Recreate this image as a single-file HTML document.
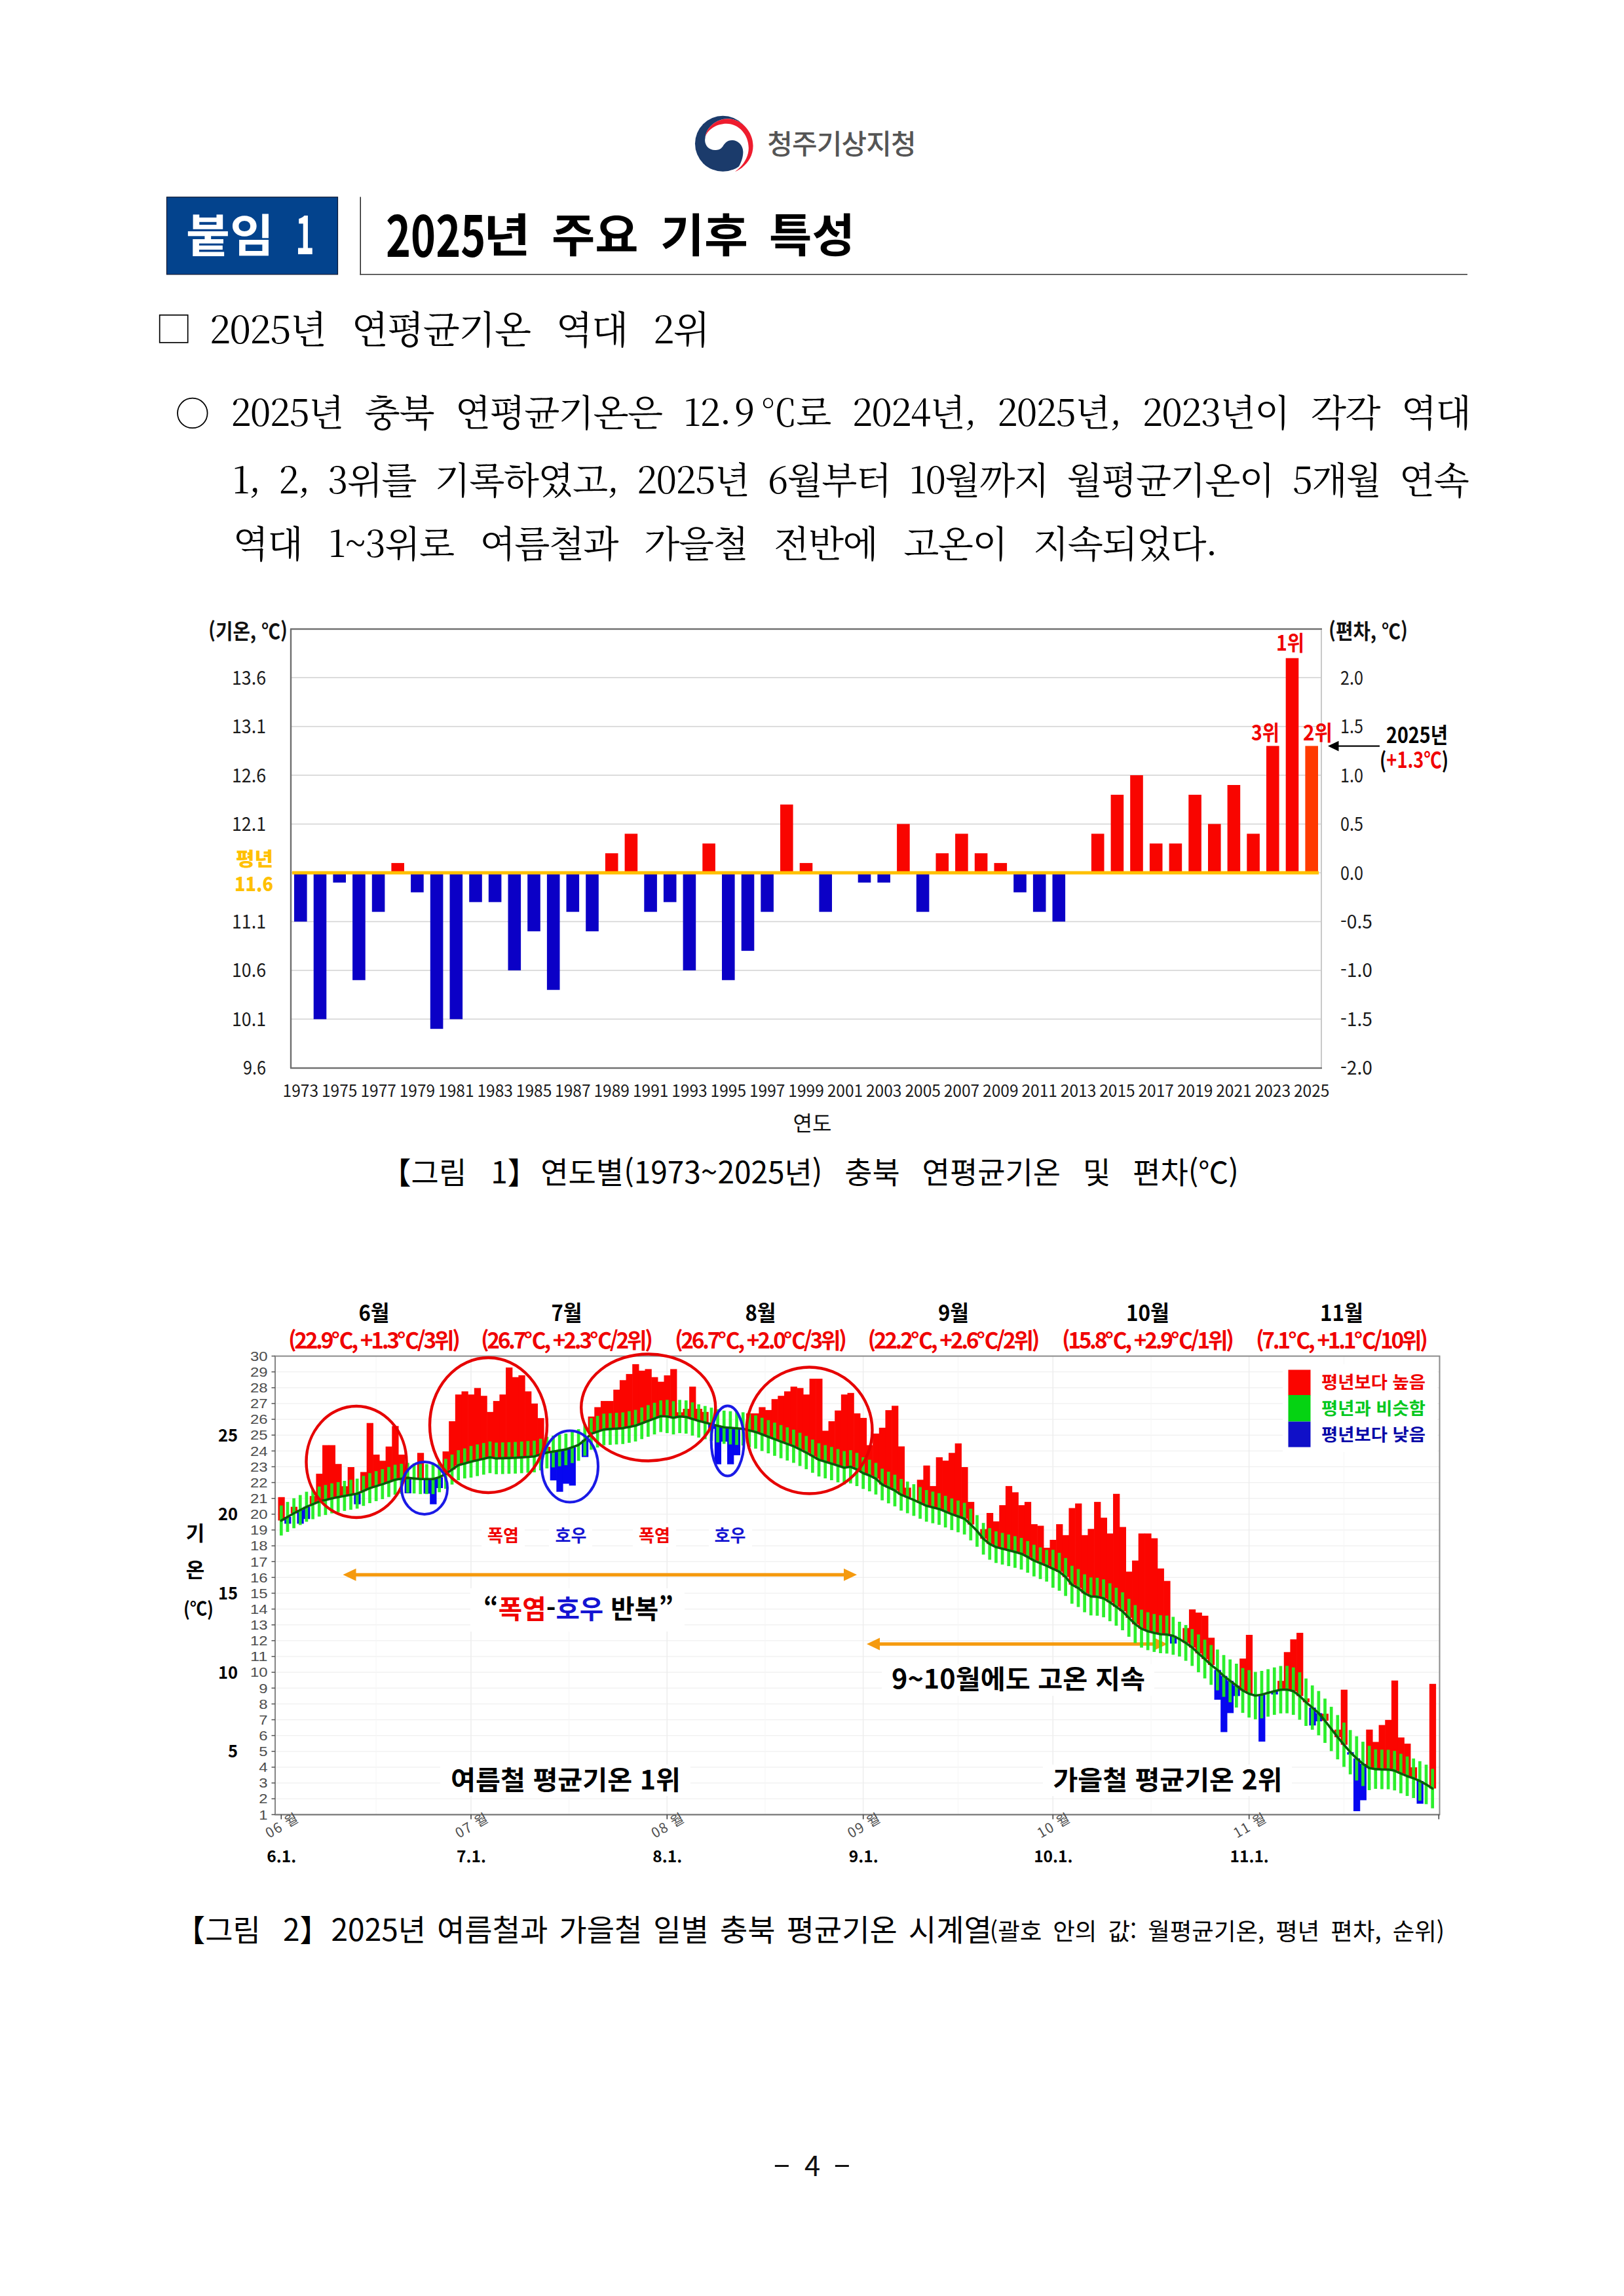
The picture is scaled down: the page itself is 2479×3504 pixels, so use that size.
<!DOCTYPE html>
<html lang="ko"><head><meta charset="utf-8"><title>2025년 주요 기후 특성</title>
<style>
html,body{margin:0;padding:0;background:#fff;}
#page{position:relative;width:2479px;height:3504px;background:#fff;overflow:hidden;}
.t{position:absolute;white-space:nowrap;margin:0;padding:0;transform-origin:0 50%;}
.g{margin:0;padding:0;height:0;font-size:0;line-height:0;font-weight:normal;}
.serif{font-family:'Noto Serif CJK SC','Noto Serif CJK KR','Liberation Serif',serif;color:#000;}
.ks{font-family:'Noto Sans CJK KR','NanumGothic','Liberation Sans',sans-serif;}
svg{position:absolute;left:0;top:0;}
svg text{font-family:'Noto Sans CJK KR','NanumGothic','Liberation Sans',sans-serif;}
</style></head><body><div id="page">
<svg width="2479" height="3504" viewBox="0 0 2479 3504">
<g transform="translate(1050,165) scale(0.06773)">
<circle cx="790" cy="802" r="628" fill="#1b3b6b"/>
<path d="M395 640 C430 420 650 240 900 240 C1200 240 1470 520 1470 850 C1470 1120 1300 1330 1060 1435 C1150 1350 1250 1150 1245 980 C1240 830 1120 725 1000 725 C880 725 830 800 790 860 C740 930 680 945 610 945 C480 945 385 850 385 720 Z" fill="#fff"/>
<path d="M395 640 C430 420 650 240 900 240 C1200 240 1470 520 1470 850 C1470 1120 1300 1330 1060 1435 C1250 1300 1370 1100 1370 900 C1370 600 1150 350 870 350 C650 350 450 480 395 640 Z" fill="#ee1c2e"/>
</g>
<rect x="254.5" y="300.8" width="261" height="118" fill="#03438d" stroke="#0a1530" stroke-width="1.2"/>
<rect x="549.5" y="300.5" width="1.5" height="119" fill="#222"/>
<rect x="549.5" y="418" width="1690.500" height="1.5" fill="#333"/>
<rect x="243.7" y="480.8" width="43" height="42" fill="none" stroke="#000" stroke-width="1.7"/>
<circle cx="293.8" cy="630.4" r="22.8" fill="none" stroke="#000" stroke-width="1.8"/>
</svg>
<div class="t ks" style="left:1171.3px;top:184.8px;font-size:42.00px;height:63.0px;line-height:63.0px;color:#555;font-weight:500;letter-spacing:-0.90px;">청주기상지청</div>
<div class="g">
<div class="t ks" style="left:284.1px;top:305.8px;font-size:64.00px;height:96.0px;line-height:96.0px;color:#fff;font-weight:700;transform:scale(1.1363,1.0900);">붙임</div>
 
<div class="t ks" style="left:451.1px;top:304.7px;font-size:64.00px;height:96.0px;line-height:96.0px;color:#fff;font-weight:700;transform:scale(0.7629,1.2500);">1</div>
</div><h1 class="g">
<div class="t ks" style="left:589.0px;top:305.3px;font-size:66.00px;height:99.0px;line-height:99.0px;color:#000;font-weight:700;transform:scale(0.9789,1.3000);">2025</div>
<div class="t ks" style="left:737.5px;top:305.3px;font-size:66.00px;height:99.0px;line-height:99.0px;color:#000;font-weight:700;transform:scale(1.1830,1.0600);">년</div>
 
<div class="t ks" style="left:841.9px;top:305.3px;font-size:66.00px;height:99.0px;line-height:99.0px;color:#000;font-weight:700;transform:scale(1.0906,1.0600);">주요</div>
 
<div class="t ks" style="left:1008.1px;top:305.3px;font-size:66.00px;height:99.0px;line-height:99.0px;color:#000;font-weight:700;transform:scale(1.1018,1.0600);">기후</div>
 
<div class="t ks" style="left:1173.7px;top:305.3px;font-size:66.00px;height:99.0px;line-height:99.0px;color:#000;font-weight:700;transform:scale(1.0768,1.0600);">특성</div>
</h1>
<div class="t serif" style="left:319.7px;top:455.5px;font-size:58.00px;height:87.0px;line-height:87.0px;color:#000;font-weight:400;word-spacing:22.72px;letter-spacing:-1.5px;">2025년 연평균기온 역대 2위</div>
<div class="t serif" style="left:352.3px;top:584.0px;font-size:56.00px;height:84.0px;line-height:84.0px;color:#000;font-weight:400;word-spacing:17.14px;letter-spacing:-1.5px;">2025년 충북 연평균기온은 12<span style="letter-spacing:4px">.</span>9<span style="margin-left:10px">℃</span>로 2024년, 2025년, 2023년이 각각 역대</div>
<div class="t serif" style="left:354.8px;top:686.5px;font-size:56.00px;height:84.0px;line-height:84.0px;color:#000;font-weight:400;word-spacing:12.56px;letter-spacing:-1.5px;">1, 2, 3위를 기록하였고, 2025년 6월부터 10월까지 월평균기온이 5개월 연속</div>
<div class="t serif" style="left:355.8px;top:783.5px;font-size:56.00px;height:84.0px;line-height:84.0px;color:#000;font-weight:400;word-spacing:24.32px;letter-spacing:-1.5px;">역대 1~3위로 여름철과 가을철 전반에 고온이 지속되었다.</div>
<svg width="2479" height="3504" viewBox="0 0 2479 3504">
<rect x="444.0" y="1629.0" width="1573.0" height="1.6" fill="#d4d4d4"/>
<rect x="444.0" y="1554.5" width="1573.0" height="1.6" fill="#d4d4d4"/>
<rect x="444.0" y="1480.1" width="1573.0" height="1.6" fill="#d4d4d4"/>
<rect x="444.0" y="1405.7" width="1573.0" height="1.6" fill="#d4d4d4"/>
<rect x="444.0" y="1331.2" width="1573.0" height="1.6" fill="#d4d4d4"/>
<rect x="444.0" y="1256.8" width="1573.0" height="1.6" fill="#d4d4d4"/>
<rect x="444.0" y="1182.3" width="1573.0" height="1.6" fill="#d4d4d4"/>
<rect x="444.0" y="1107.9" width="1573.0" height="1.6" fill="#d4d4d4"/>
<rect x="444.0" y="1033.4" width="1573.0" height="1.6" fill="#d4d4d4"/>
<rect x="449.0" y="1332.0" width="19.6" height="74.5" fill="#0b00c6"/>
<rect x="478.7" y="1332.0" width="19.6" height="223.4" fill="#0b00c6"/>
<rect x="508.4" y="1332.0" width="19.6" height="14.9" fill="#0b00c6"/>
<rect x="538.1" y="1332.0" width="19.6" height="163.8" fill="#0b00c6"/>
<rect x="567.8" y="1332.0" width="19.6" height="59.6" fill="#0b00c6"/>
<rect x="597.4" y="1317.1" width="19.6" height="14.9" fill="#f90500"/>
<rect x="627.1" y="1332.0" width="19.6" height="29.8" fill="#0b00c6"/>
<rect x="656.8" y="1332.0" width="19.6" height="238.2" fill="#0b00c6"/>
<rect x="686.5" y="1332.0" width="19.6" height="223.4" fill="#0b00c6"/>
<rect x="716.2" y="1332.0" width="19.6" height="44.7" fill="#0b00c6"/>
<rect x="745.8" y="1332.0" width="19.6" height="44.7" fill="#0b00c6"/>
<rect x="775.5" y="1332.0" width="19.6" height="148.9" fill="#0b00c6"/>
<rect x="805.2" y="1332.0" width="19.6" height="89.3" fill="#0b00c6"/>
<rect x="834.9" y="1332.0" width="19.6" height="178.7" fill="#0b00c6"/>
<rect x="864.5" y="1332.0" width="19.6" height="59.6" fill="#0b00c6"/>
<rect x="894.2" y="1332.0" width="19.6" height="89.3" fill="#0b00c6"/>
<rect x="923.9" y="1302.2" width="19.6" height="29.8" fill="#f90500"/>
<rect x="953.6" y="1272.4" width="19.6" height="59.6" fill="#f90500"/>
<rect x="983.3" y="1332.0" width="19.6" height="59.6" fill="#0b00c6"/>
<rect x="1012.9" y="1332.0" width="19.6" height="44.7" fill="#0b00c6"/>
<rect x="1042.6" y="1332.0" width="19.6" height="148.9" fill="#0b00c6"/>
<rect x="1072.3" y="1287.3" width="19.6" height="44.7" fill="#f90500"/>
<rect x="1102.0" y="1332.0" width="19.6" height="163.8" fill="#0b00c6"/>
<rect x="1131.7" y="1332.0" width="19.6" height="119.1" fill="#0b00c6"/>
<rect x="1161.3" y="1332.0" width="19.6" height="59.6" fill="#0b00c6"/>
<rect x="1191.0" y="1227.8" width="19.6" height="104.2" fill="#f90500"/>
<rect x="1220.7" y="1317.1" width="19.6" height="14.9" fill="#f90500"/>
<rect x="1250.4" y="1332.0" width="19.6" height="59.6" fill="#0b00c6"/>
<rect x="1309.7" y="1332.0" width="19.6" height="14.9" fill="#0b00c6"/>
<rect x="1339.4" y="1332.0" width="19.6" height="14.9" fill="#0b00c6"/>
<rect x="1369.1" y="1257.5" width="19.6" height="74.5" fill="#f90500"/>
<rect x="1398.8" y="1332.0" width="19.6" height="59.6" fill="#0b00c6"/>
<rect x="1428.5" y="1302.2" width="19.6" height="29.8" fill="#f90500"/>
<rect x="1458.1" y="1272.4" width="19.6" height="59.6" fill="#f90500"/>
<rect x="1487.8" y="1302.2" width="19.6" height="29.8" fill="#f90500"/>
<rect x="1517.5" y="1317.1" width="19.6" height="14.9" fill="#f90500"/>
<rect x="1547.2" y="1332.0" width="19.6" height="29.8" fill="#0b00c6"/>
<rect x="1576.9" y="1332.0" width="19.6" height="59.6" fill="#0b00c6"/>
<rect x="1606.5" y="1332.0" width="19.6" height="74.5" fill="#0b00c6"/>
<rect x="1665.9" y="1272.4" width="19.6" height="59.6" fill="#f90500"/>
<rect x="1695.6" y="1212.9" width="19.6" height="119.1" fill="#f90500"/>
<rect x="1725.2" y="1183.1" width="19.6" height="148.9" fill="#f90500"/>
<rect x="1754.9" y="1287.3" width="19.6" height="44.7" fill="#f90500"/>
<rect x="1784.6" y="1287.3" width="19.6" height="44.7" fill="#f90500"/>
<rect x="1814.3" y="1212.9" width="19.6" height="119.1" fill="#f90500"/>
<rect x="1844.0" y="1257.5" width="19.6" height="74.5" fill="#f90500"/>
<rect x="1873.6" y="1198.0" width="19.6" height="134.0" fill="#f90500"/>
<rect x="1903.3" y="1272.4" width="19.6" height="59.6" fill="#f90500"/>
<rect x="1933.0" y="1138.4" width="19.6" height="193.6" fill="#f90500"/>
<rect x="1962.7" y="1004.4" width="19.6" height="327.6" fill="#f90500"/>
<rect x="1992.4" y="1138.4" width="19.6" height="193.6" fill="#ff3a00"/>
<rect x="446.0" y="1329.5" width="1567.0" height="5" fill="#ffc000"/>
<rect x="443.0" y="958.8" width="1575.0" height="2.4" fill="#6e6e6e"/>
<rect x="443.0" y="1628.8" width="1575.0" height="2.4" fill="#6e6e6e"/>
<rect x="442.8" y="960.0" width="2.4" height="670.0" fill="#6e6e6e"/>
<rect x="2016.0" y="961.0" width="2" height="668.0" fill="#c9c9c9"/>
<text x="354.0" y="1044.7" font-size="29" fill="#1a1a1a" textLength="52" lengthAdjust="spacingAndGlyphs">13.6</text>
<text x="354.0" y="1119.2" font-size="29" fill="#1a1a1a" textLength="52" lengthAdjust="spacingAndGlyphs">13.1</text>
<text x="354.0" y="1193.6" font-size="29" fill="#1a1a1a" textLength="52" lengthAdjust="spacingAndGlyphs">12.6</text>
<text x="354.0" y="1268.0" font-size="29" fill="#1a1a1a" textLength="52" lengthAdjust="spacingAndGlyphs">12.1</text>
<text x="354.0" y="1417.0" font-size="29" fill="#1a1a1a" textLength="52" lengthAdjust="spacingAndGlyphs">11.1</text>
<text x="354.0" y="1491.4" font-size="29" fill="#1a1a1a" textLength="52" lengthAdjust="spacingAndGlyphs">10.6</text>
<text x="354.0" y="1565.8" font-size="29" fill="#1a1a1a" textLength="52" lengthAdjust="spacingAndGlyphs">10.1</text>
<text x="371.0" y="1640.3" font-size="29" fill="#1a1a1a" textLength="35" lengthAdjust="spacingAndGlyphs">9.6</text>
<text x="2046" y="1044.7" font-size="29" fill="#1a1a1a" textLength="35" lengthAdjust="spacingAndGlyphs">2.0</text>
<text x="2046" y="1119.2" font-size="29" fill="#1a1a1a" textLength="35" lengthAdjust="spacingAndGlyphs">1.5</text>
<text x="2046" y="1193.6" font-size="29" fill="#1a1a1a" textLength="35" lengthAdjust="spacingAndGlyphs">1.0</text>
<text x="2046" y="1268.0" font-size="29" fill="#1a1a1a" textLength="35" lengthAdjust="spacingAndGlyphs">0.5</text>
<text x="2046" y="1342.5" font-size="29" fill="#1a1a1a" textLength="35" lengthAdjust="spacingAndGlyphs">0.0</text>
<text x="2046" y="1417.0" font-size="29" fill="#1a1a1a" textLength="49" lengthAdjust="spacingAndGlyphs">-0.5</text>
<text x="2046" y="1491.4" font-size="29" fill="#1a1a1a" textLength="49" lengthAdjust="spacingAndGlyphs">-1.0</text>
<text x="2046" y="1565.8" font-size="29" fill="#1a1a1a" textLength="49" lengthAdjust="spacingAndGlyphs">-1.5</text>
<text x="2046" y="1640.3" font-size="29" fill="#1a1a1a" textLength="49" lengthAdjust="spacingAndGlyphs">-2.0</text>
<text x="360" y="1322" font-size="29" font-weight="900" fill="#ffc000" textLength="57" lengthAdjust="spacingAndGlyphs">평년</text>
<text x="358" y="1360" font-size="30" font-weight="900" fill="#ffc000" textLength="59" lengthAdjust="spacingAndGlyphs">11.6</text>
<text x="318" y="975" font-size="32" font-weight="700" fill="#111" textLength="121" lengthAdjust="spacingAndGlyphs">(기온, ℃)</text>
<text x="2028" y="975" font-size="32" font-weight="700" fill="#111" textLength="121" lengthAdjust="spacingAndGlyphs">(편차, ℃)</text>
<text x="431.6" y="1674" font-size="25" fill="#1a1a1a" textLength="54.5" lengthAdjust="spacingAndGlyphs">1973</text>
<text x="491.0" y="1674" font-size="25" fill="#1a1a1a" textLength="54.5" lengthAdjust="spacingAndGlyphs">1975</text>
<text x="550.4" y="1674" font-size="25" fill="#1a1a1a" textLength="54.5" lengthAdjust="spacingAndGlyphs">1977</text>
<text x="609.7" y="1674" font-size="25" fill="#1a1a1a" textLength="54.5" lengthAdjust="spacingAndGlyphs">1979</text>
<text x="669.1" y="1674" font-size="25" fill="#1a1a1a" textLength="54.5" lengthAdjust="spacingAndGlyphs">1981</text>
<text x="728.4" y="1674" font-size="25" fill="#1a1a1a" textLength="54.5" lengthAdjust="spacingAndGlyphs">1983</text>
<text x="787.8" y="1674" font-size="25" fill="#1a1a1a" textLength="54.5" lengthAdjust="spacingAndGlyphs">1985</text>
<text x="847.1" y="1674" font-size="25" fill="#1a1a1a" textLength="54.5" lengthAdjust="spacingAndGlyphs">1987</text>
<text x="906.5" y="1674" font-size="25" fill="#1a1a1a" textLength="54.5" lengthAdjust="spacingAndGlyphs">1989</text>
<text x="965.9" y="1674" font-size="25" fill="#1a1a1a" textLength="54.5" lengthAdjust="spacingAndGlyphs">1991</text>
<text x="1025.2" y="1674" font-size="25" fill="#1a1a1a" textLength="54.5" lengthAdjust="spacingAndGlyphs">1993</text>
<text x="1084.6" y="1674" font-size="25" fill="#1a1a1a" textLength="54.5" lengthAdjust="spacingAndGlyphs">1995</text>
<text x="1143.9" y="1674" font-size="25" fill="#1a1a1a" textLength="54.5" lengthAdjust="spacingAndGlyphs">1997</text>
<text x="1203.3" y="1674" font-size="25" fill="#1a1a1a" textLength="54.5" lengthAdjust="spacingAndGlyphs">1999</text>
<text x="1262.7" y="1674" font-size="25" fill="#1a1a1a" textLength="54.5" lengthAdjust="spacingAndGlyphs">2001</text>
<text x="1322.0" y="1674" font-size="25" fill="#1a1a1a" textLength="54.5" lengthAdjust="spacingAndGlyphs">2003</text>
<text x="1381.4" y="1674" font-size="25" fill="#1a1a1a" textLength="54.5" lengthAdjust="spacingAndGlyphs">2005</text>
<text x="1440.7" y="1674" font-size="25" fill="#1a1a1a" textLength="54.5" lengthAdjust="spacingAndGlyphs">2007</text>
<text x="1500.1" y="1674" font-size="25" fill="#1a1a1a" textLength="54.5" lengthAdjust="spacingAndGlyphs">2009</text>
<text x="1559.5" y="1674" font-size="25" fill="#1a1a1a" textLength="54.5" lengthAdjust="spacingAndGlyphs">2011</text>
<text x="1618.8" y="1674" font-size="25" fill="#1a1a1a" textLength="54.5" lengthAdjust="spacingAndGlyphs">2013</text>
<text x="1678.2" y="1674" font-size="25" fill="#1a1a1a" textLength="54.5" lengthAdjust="spacingAndGlyphs">2015</text>
<text x="1737.5" y="1674" font-size="25" fill="#1a1a1a" textLength="54.5" lengthAdjust="spacingAndGlyphs">2017</text>
<text x="1796.9" y="1674" font-size="25" fill="#1a1a1a" textLength="54.5" lengthAdjust="spacingAndGlyphs">2019</text>
<text x="1856.2" y="1674" font-size="25" fill="#1a1a1a" textLength="54.5" lengthAdjust="spacingAndGlyphs">2021</text>
<text x="1915.6" y="1674" font-size="25" fill="#1a1a1a" textLength="54.5" lengthAdjust="spacingAndGlyphs">2023</text>
<text x="1975.0" y="1674" font-size="25" fill="#1a1a1a" textLength="54.5" lengthAdjust="spacingAndGlyphs">2025</text>
<text x="1240" y="1726" font-size="32" text-anchor="middle" fill="#111">연도</text>
<text x="1948" y="993" font-size="32" font-weight="700" fill="#f00000" textLength="43" lengthAdjust="spacingAndGlyphs">1위</text>
<text x="1910" y="1130" font-size="32" font-weight="700" fill="#f00000" textLength="43" lengthAdjust="spacingAndGlyphs">3위</text>
<text x="1989" y="1130" font-size="32" font-weight="700" fill="#f00000" textLength="45" lengthAdjust="spacingAndGlyphs">2위</text>
<rect x="2040" y="1137.5" width="66" height="2.2" fill="#000"/>
<path d="M2027 1138.6 L2043.5 1130.8 L2043.5 1146.4 Z" fill="#000"/>
<text x="2116" y="1134" font-size="33" font-weight="700" fill="#000" textLength="94" lengthAdjust="spacingAndGlyphs">2025년</text>
<text x="2106" y="1172" font-size="33" font-weight="700" fill="#000" textLength="105" lengthAdjust="spacingAndGlyphs">(<tspan fill="#f00000">+1.3℃</tspan>)</text>
</svg>
<svg width="2479" height="3504" viewBox="0 0 2479 3504">
<rect x="420.0" y="2744.5" width="1777.5" height="1.3" fill="#f0f0f0"/>
<rect x="420.0" y="2720.4" width="1777.5" height="1.3" fill="#f0f0f0"/>
<rect x="420.0" y="2696.3" width="1777.5" height="1.3" fill="#f0f0f0"/>
<rect x="420.0" y="2672.2" width="1777.5" height="1.3" fill="#f0f0f0"/>
<rect x="420.0" y="2648.0" width="1777.5" height="1.3" fill="#f0f0f0"/>
<rect x="420.0" y="2623.9" width="1777.5" height="1.3" fill="#f0f0f0"/>
<rect x="420.0" y="2599.8" width="1777.5" height="1.3" fill="#f0f0f0"/>
<rect x="420.0" y="2575.6" width="1777.5" height="1.3" fill="#f0f0f0"/>
<rect x="420.0" y="2551.5" width="1777.5" height="1.3" fill="#f0f0f0"/>
<rect x="420.0" y="2527.4" width="1777.5" height="1.3" fill="#f0f0f0"/>
<rect x="420.0" y="2503.2" width="1777.5" height="1.3" fill="#f0f0f0"/>
<rect x="420.0" y="2479.1" width="1777.5" height="1.3" fill="#f0f0f0"/>
<rect x="420.0" y="2455.0" width="1777.5" height="1.3" fill="#f0f0f0"/>
<rect x="420.0" y="2430.8" width="1777.5" height="1.3" fill="#f0f0f0"/>
<rect x="420.0" y="2406.7" width="1777.5" height="1.3" fill="#f0f0f0"/>
<rect x="420.0" y="2382.6" width="1777.5" height="1.3" fill="#f0f0f0"/>
<rect x="420.0" y="2358.5" width="1777.5" height="1.3" fill="#f0f0f0"/>
<rect x="420.0" y="2334.3" width="1777.5" height="1.3" fill="#f0f0f0"/>
<rect x="420.0" y="2310.2" width="1777.5" height="1.3" fill="#f0f0f0"/>
<rect x="420.0" y="2286.1" width="1777.5" height="1.3" fill="#f0f0f0"/>
<rect x="420.0" y="2261.9" width="1777.5" height="1.3" fill="#f0f0f0"/>
<rect x="420.0" y="2237.8" width="1777.5" height="1.3" fill="#f0f0f0"/>
<rect x="420.0" y="2213.7" width="1777.5" height="1.3" fill="#f0f0f0"/>
<rect x="420.0" y="2189.6" width="1777.5" height="1.3" fill="#f0f0f0"/>
<rect x="420.0" y="2165.4" width="1777.5" height="1.3" fill="#f0f0f0"/>
<rect x="420.0" y="2141.3" width="1777.5" height="1.3" fill="#f0f0f0"/>
<rect x="420.0" y="2117.2" width="1777.5" height="1.3" fill="#f0f0f0"/>
<rect x="420.0" y="2093.0" width="1777.5" height="1.3" fill="#f0f0f0"/>
<rect x="573.6" y="2069.6" width="1" height="699.8" fill="#f5f5f5"/>
<rect x="718.2" y="2069.6" width="1.5" height="699.8" fill="#ededed"/>
<rect x="868.1" y="2069.6" width="1" height="699.8" fill="#f5f5f5"/>
<rect x="1017.5" y="2069.6" width="1.5" height="699.8" fill="#ededed"/>
<rect x="1167.5" y="2069.6" width="1" height="699.8" fill="#f5f5f5"/>
<rect x="1316.9" y="2069.6" width="1.5" height="699.8" fill="#ededed"/>
<rect x="1462.0" y="2069.6" width="1" height="699.8" fill="#f5f5f5"/>
<rect x="1606.5" y="2069.6" width="1.5" height="699.8" fill="#ededed"/>
<rect x="1756.5" y="2069.6" width="1" height="699.8" fill="#f5f5f5"/>
<rect x="1905.9" y="2069.6" width="1.5" height="699.8" fill="#ededed"/>
<rect x="2051.0" y="2069.6" width="1" height="699.8" fill="#f5f5f5"/>
<rect x="424.47" y="2284.8" width="10.26" height="35.7" fill="#fb0500"/>
<rect x="434.13" y="2315.0" width="10.26" height="10.4" fill="#0707f0"/>
<rect x="443.78" y="2299.6" width="10.26" height="9.9" fill="#fb0500"/>
<rect x="453.44" y="2304.5" width="10.26" height="20.9" fill="#0707f0"/>
<rect x="463.10" y="2299.6" width="10.26" height="18.6" fill="#0707f0"/>
<rect x="472.75" y="2283.2" width="10.26" height="12.4" fill="#fb0500"/>
<rect x="482.41" y="2249.1" width="10.26" height="42.5" fill="#fb0500"/>
<rect x="492.06" y="2205.5" width="10.26" height="83.7" fill="#fb0500"/>
<rect x="501.72" y="2205.5" width="10.26" height="81.3" fill="#fb0500"/>
<rect x="511.38" y="2234.2" width="10.26" height="50.7" fill="#fb0500"/>
<rect x="521.03" y="2268.2" width="10.26" height="14.7" fill="#fb0500"/>
<rect x="530.69" y="2239.0" width="10.26" height="42.2" fill="#fb0500"/>
<rect x="540.34" y="2279.5" width="10.26" height="16.2" fill="#0707f0"/>
<rect x="550.00" y="2246.5" width="10.26" height="28.8" fill="#fb0500"/>
<rect x="559.66" y="2171.7" width="10.26" height="99.4" fill="#fb0500"/>
<rect x="569.31" y="2219.9" width="10.26" height="48.1" fill="#fb0500"/>
<rect x="578.97" y="2229.3" width="10.26" height="35.7" fill="#fb0500"/>
<rect x="588.62" y="2207.6" width="10.26" height="54.1" fill="#fb0500"/>
<rect x="598.28" y="2176.3" width="10.26" height="82.0" fill="#fb0500"/>
<rect x="607.94" y="2219.9" width="10.26" height="36.9" fill="#fb0500"/>
<rect x="617.59" y="2255.4" width="10.26" height="23.6" fill="#0707f0"/>
<rect x="636.90" y="2217.3" width="10.26" height="40.1" fill="#fb0500"/>
<rect x="646.56" y="2257.3" width="10.26" height="22.2" fill="#0707f0"/>
<rect x="656.22" y="2257.3" width="10.26" height="38.4" fill="#0707f0"/>
<rect x="665.87" y="2254.4" width="10.26" height="16.6" fill="#0707f0"/>
<rect x="675.53" y="2215.1" width="10.26" height="34.3" fill="#fb0500"/>
<rect x="685.18" y="2169.0" width="10.26" height="73.7" fill="#fb0500"/>
<rect x="694.84" y="2128.2" width="10.26" height="107.9" fill="#fb0500"/>
<rect x="704.50" y="2123.4" width="10.26" height="110.0" fill="#fb0500"/>
<rect x="714.15" y="2128.2" width="10.26" height="102.6" fill="#fb0500"/>
<rect x="723.81" y="2118.3" width="10.26" height="110.2" fill="#fb0500"/>
<rect x="733.46" y="2130.2" width="10.26" height="96.1" fill="#fb0500"/>
<rect x="743.12" y="2154.8" width="10.26" height="69.3" fill="#fb0500"/>
<rect x="752.78" y="2138.1" width="10.26" height="87.6" fill="#fb0500"/>
<rect x="762.43" y="2128.2" width="10.26" height="97.2" fill="#fb0500"/>
<rect x="772.09" y="2087.0" width="10.26" height="138.1" fill="#fb0500"/>
<rect x="781.74" y="2101.7" width="10.26" height="123.1" fill="#fb0500"/>
<rect x="791.40" y="2098.8" width="10.26" height="125.3" fill="#fb0500"/>
<rect x="801.06" y="2123.4" width="10.26" height="100.1" fill="#fb0500"/>
<rect x="810.71" y="2142.0" width="10.26" height="80.8" fill="#fb0500"/>
<rect x="820.37" y="2164.2" width="10.26" height="55.6" fill="#fb0500"/>
<rect x="830.02" y="2208.1" width="10.26" height="8.7" fill="#fb0500"/>
<rect x="839.68" y="2215.2" width="10.26" height="44.1" fill="#0707f0"/>
<rect x="849.34" y="2213.6" width="10.26" height="63.1" fill="#0707f0"/>
<rect x="858.99" y="2212.0" width="10.26" height="52.4" fill="#0707f0"/>
<rect x="868.65" y="2208.6" width="10.26" height="58.6" fill="#0707f0"/>
<rect x="887.96" y="2197.5" width="10.26" height="26.1" fill="#0707f0"/>
<rect x="897.62" y="2161.8" width="10.26" height="26.5" fill="#fb0500"/>
<rect x="907.27" y="2147.5" width="10.26" height="37.4" fill="#fb0500"/>
<rect x="916.93" y="2138.1" width="10.26" height="43.4" fill="#fb0500"/>
<rect x="926.58" y="2138.1" width="10.26" height="42.8" fill="#fb0500"/>
<rect x="936.24" y="2120.8" width="10.26" height="59.5" fill="#fb0500"/>
<rect x="945.90" y="2106.3" width="10.26" height="73.4" fill="#fb0500"/>
<rect x="955.55" y="2096.9" width="10.26" height="80.8" fill="#fb0500"/>
<rect x="965.21" y="2081.9" width="10.26" height="93.9" fill="#fb0500"/>
<rect x="974.86" y="2091.8" width="10.26" height="80.4" fill="#fb0500"/>
<rect x="984.52" y="2089.4" width="10.26" height="79.1" fill="#fb0500"/>
<rect x="994.18" y="2101.7" width="10.26" height="63.2" fill="#fb0500"/>
<rect x="1003.83" y="2108.7" width="10.26" height="52.6" fill="#fb0500"/>
<rect x="1013.49" y="2099.0" width="10.26" height="62.7" fill="#fb0500"/>
<rect x="1023.14" y="2089.4" width="10.26" height="74.3" fill="#fb0500"/>
<rect x="1032.80" y="2155.3" width="10.26" height="6.5" fill="#fb0500"/>
<rect x="1042.46" y="2150.0" width="10.26" height="12.5" fill="#fb0500"/>
<rect x="1052.11" y="2116.2" width="10.26" height="49.3" fill="#fb0500"/>
<rect x="1061.77" y="2150.0" width="10.26" height="18.6" fill="#fb0500"/>
<rect x="1071.42" y="2154.8" width="10.26" height="16.3" fill="#fb0500"/>
<rect x="1081.08" y="2173.6" width="10.26" height="7.0" fill="#0707f0"/>
<rect x="1090.74" y="2175.9" width="10.26" height="58.8" fill="#0707f0"/>
<rect x="1100.39" y="2178.2" width="10.26" height="22.0" fill="#0707f0"/>
<rect x="1110.05" y="2179.0" width="10.26" height="55.7" fill="#0707f0"/>
<rect x="1119.70" y="2179.8" width="10.26" height="41.1" fill="#0707f0"/>
<rect x="1139.02" y="2157.0" width="10.26" height="26.1" fill="#fb0500"/>
<rect x="1148.67" y="2157.0" width="10.26" height="28.5" fill="#fb0500"/>
<rect x="1158.33" y="2147.5" width="10.26" height="41.5" fill="#fb0500"/>
<rect x="1167.98" y="2151.9" width="10.26" height="40.8" fill="#fb0500"/>
<rect x="1177.64" y="2135.2" width="10.26" height="61.2" fill="#fb0500"/>
<rect x="1187.30" y="2130.2" width="10.26" height="70.0" fill="#fb0500"/>
<rect x="1196.95" y="2123.4" width="10.26" height="80.2" fill="#fb0500"/>
<rect x="1206.61" y="2116.2" width="10.26" height="91.0" fill="#fb0500"/>
<rect x="1216.26" y="2118.3" width="10.26" height="93.6" fill="#fb0500"/>
<rect x="1225.92" y="2128.2" width="10.26" height="88.6" fill="#fb0500"/>
<rect x="1235.58" y="2104.1" width="10.26" height="118.2" fill="#fb0500"/>
<rect x="1245.23" y="2104.1" width="10.26" height="123.8" fill="#fb0500"/>
<rect x="1254.89" y="2183.5" width="10.26" height="47.3" fill="#fb0500"/>
<rect x="1264.54" y="2169.0" width="10.26" height="64.7" fill="#fb0500"/>
<rect x="1274.20" y="2152.6" width="10.26" height="84.2" fill="#fb0500"/>
<rect x="1283.86" y="2128.2" width="10.26" height="111.7" fill="#fb0500"/>
<rect x="1293.51" y="2125.8" width="10.26" height="112.7" fill="#fb0500"/>
<rect x="1303.17" y="2157.0" width="10.26" height="85.7" fill="#fb0500"/>
<rect x="1312.82" y="2163.9" width="10.26" height="84.2" fill="#fb0500"/>
<rect x="1322.48" y="2205.5" width="10.26" height="46.3" fill="#fb0500"/>
<rect x="1332.14" y="2187.8" width="10.26" height="68.8" fill="#fb0500"/>
<rect x="1341.79" y="2178.9" width="10.26" height="86.6" fill="#fb0500"/>
<rect x="1351.45" y="2152.1" width="10.26" height="118.0" fill="#fb0500"/>
<rect x="1361.10" y="2145.4" width="10.26" height="129.3" fill="#fb0500"/>
<rect x="1370.76" y="2207.4" width="10.26" height="73.8" fill="#fb0500"/>
<rect x="1380.42" y="2270.4" width="10.26" height="14.8" fill="#fb0500"/>
<rect x="1399.73" y="2258.3" width="10.26" height="35.4" fill="#fb0500"/>
<rect x="1409.38" y="2236.6" width="10.26" height="61.5" fill="#fb0500"/>
<rect x="1419.04" y="2267.9" width="10.26" height="32.6" fill="#fb0500"/>
<rect x="1428.70" y="2224.0" width="10.26" height="78.9" fill="#fb0500"/>
<rect x="1438.35" y="2229.1" width="10.26" height="77.8" fill="#fb0500"/>
<rect x="1448.01" y="2217.3" width="10.26" height="93.6" fill="#fb0500"/>
<rect x="1457.66" y="2202.8" width="10.26" height="111.5" fill="#fb0500"/>
<rect x="1467.32" y="2239.0" width="10.26" height="78.7" fill="#fb0500"/>
<rect x="1476.98" y="2292.1" width="10.26" height="34.5" fill="#fb0500"/>
<rect x="1496.29" y="2333.6" width="10.26" height="14.7" fill="#fb0500"/>
<rect x="1505.94" y="2309.0" width="10.26" height="47.3" fill="#fb0500"/>
<rect x="1515.60" y="2321.8" width="10.26" height="39.3" fill="#fb0500"/>
<rect x="1525.26" y="2297.1" width="10.26" height="66.4" fill="#fb0500"/>
<rect x="1534.91" y="2267.9" width="10.26" height="98.0" fill="#fb0500"/>
<rect x="1544.57" y="2277.4" width="10.26" height="91.2" fill="#fb0500"/>
<rect x="1554.22" y="2297.1" width="10.26" height="74.1" fill="#fb0500"/>
<rect x="1563.88" y="2292.1" width="10.26" height="84.0" fill="#fb0500"/>
<rect x="1573.54" y="2326.1" width="10.26" height="55.5" fill="#fb0500"/>
<rect x="1583.19" y="2328.5" width="10.26" height="57.1" fill="#fb0500"/>
<rect x="1592.85" y="2362.1" width="10.26" height="27.5" fill="#fb0500"/>
<rect x="1602.50" y="2350.0" width="10.26" height="44.2" fill="#fb0500"/>
<rect x="1612.16" y="2326.1" width="10.26" height="72.6" fill="#fb0500"/>
<rect x="1621.82" y="2342.8" width="10.26" height="63.9" fill="#fb0500"/>
<rect x="1631.47" y="2301.5" width="10.26" height="117.0" fill="#fb0500"/>
<rect x="1641.13" y="2294.5" width="10.26" height="129.1" fill="#fb0500"/>
<rect x="1650.78" y="2342.8" width="10.26" height="88.8" fill="#fb0500"/>
<rect x="1660.44" y="2333.3" width="10.26" height="103.0" fill="#fb0500"/>
<rect x="1670.10" y="2292.1" width="10.26" height="144.8" fill="#fb0500"/>
<rect x="1679.75" y="2316.2" width="10.26" height="123.1" fill="#fb0500"/>
<rect x="1689.41" y="2340.3" width="10.26" height="105.0" fill="#fb0500"/>
<rect x="1699.06" y="2279.8" width="10.26" height="172.3" fill="#fb0500"/>
<rect x="1708.72" y="2330.4" width="10.26" height="128.6" fill="#fb0500"/>
<rect x="1718.38" y="2398.5" width="10.26" height="70.5" fill="#fb0500"/>
<rect x="1728.03" y="2381.6" width="10.26" height="97.0" fill="#fb0500"/>
<rect x="1737.69" y="2340.3" width="10.26" height="145.3" fill="#fb0500"/>
<rect x="1747.34" y="2340.3" width="10.26" height="149.1" fill="#fb0500"/>
<rect x="1757.00" y="2347.6" width="10.26" height="144.5" fill="#fb0500"/>
<rect x="1766.66" y="2393.7" width="10.26" height="100.4" fill="#fb0500"/>
<rect x="1776.31" y="2412.7" width="10.26" height="81.8" fill="#fb0500"/>
<rect x="1785.97" y="2496.5" width="10.26" height="11.8" fill="#0707f0"/>
<rect x="1805.28" y="2484.6" width="10.26" height="22.7" fill="#fb0500"/>
<rect x="1814.94" y="2456.2" width="10.26" height="58.2" fill="#fb0500"/>
<rect x="1824.59" y="2461.0" width="10.26" height="62.3" fill="#fb0500"/>
<rect x="1834.25" y="2465.8" width="10.26" height="66.1" fill="#fb0500"/>
<rect x="1843.90" y="2499.4" width="10.26" height="41.5" fill="#fb0500"/>
<rect x="1853.56" y="2548.6" width="10.26" height="45.4" fill="#0707f0"/>
<rect x="1863.22" y="2557.7" width="10.26" height="85.7" fill="#0707f0"/>
<rect x="1872.87" y="2565.2" width="10.26" height="49.2" fill="#0707f0"/>
<rect x="1882.53" y="2572.5" width="10.26" height="15.9" fill="#0707f0"/>
<rect x="1892.18" y="2531.2" width="10.26" height="48.7" fill="#fb0500"/>
<rect x="1901.84" y="2495.0" width="10.26" height="90.0" fill="#fb0500"/>
<rect x="1921.15" y="2586.2" width="10.26" height="71.7" fill="#0707f0"/>
<rect x="1940.46" y="2580.9" width="10.26" height="5.1" fill="#0707f0"/>
<rect x="1950.12" y="2565.2" width="10.26" height="13.5" fill="#fb0500"/>
<rect x="1959.78" y="2521.3" width="10.26" height="57.2" fill="#fb0500"/>
<rect x="1969.43" y="2501.8" width="10.26" height="79.1" fill="#fb0500"/>
<rect x="1979.09" y="2491.9" width="10.26" height="96.5" fill="#fb0500"/>
<rect x="1988.74" y="2592.0" width="10.26" height="5.8" fill="#fb0500"/>
<rect x="1998.40" y="2606.0" width="10.26" height="27.3" fill="#0707f0"/>
<rect x="2008.06" y="2614.5" width="10.26" height="12.5" fill="#0707f0"/>
<rect x="2017.71" y="2615.4" width="10.26" height="10.6" fill="#fb0500"/>
<rect x="2037.02" y="2639.6" width="10.26" height="11.6" fill="#fb0500"/>
<rect x="2046.68" y="2578.7" width="10.26" height="84.0" fill="#fb0500"/>
<rect x="2056.34" y="2674.1" width="10.26" height="3.6" fill="#0707f0"/>
<rect x="2065.99" y="2683.5" width="10.26" height="80.6" fill="#0707f0"/>
<rect x="2075.65" y="2691.9" width="10.26" height="55.5" fill="#0707f0"/>
<rect x="2085.30" y="2639.6" width="10.26" height="58.6" fill="#fb0500"/>
<rect x="2094.96" y="2658.4" width="10.26" height="41.5" fill="#fb0500"/>
<rect x="2104.62" y="2632.6" width="10.26" height="67.8" fill="#fb0500"/>
<rect x="2114.27" y="2624.8" width="10.26" height="75.8" fill="#fb0500"/>
<rect x="2123.93" y="2564.7" width="10.26" height="137.5" fill="#fb0500"/>
<rect x="2133.58" y="2651.6" width="10.26" height="55.0" fill="#fb0500"/>
<rect x="2143.24" y="2661.0" width="10.26" height="49.7" fill="#fb0500"/>
<rect x="2152.90" y="2697.2" width="10.26" height="16.6" fill="#fb0500"/>
<rect x="2162.55" y="2718.0" width="10.26" height="34.7" fill="#0707f0"/>
<rect x="2181.86" y="2569.8" width="10.26" height="159.7" fill="#fb0500"/>
<rect x="537.5" y="2400.7" width="756.5" height="5.2" fill="#f59a0e"/>
<path d="M523.5 2403.3 l20 -9.5 l0 19 Z" fill="#f59a0e"/>
<path d="M1308.0 2403.3 l-20 -9.5 l0 19 Z" fill="#f59a0e"/>
<rect x="1337.0" y="2506.4" width="431.0" height="5.2" fill="#f59a0e"/>
<path d="M1323.0 2509.0 l20 -9.5 l0 19 Z" fill="#f59a0e"/>
<path d="M1782.0 2509.0 l-20 -9.5 l0 19 Z" fill="#f59a0e"/>
<g fill="#1cee1c" fill-opacity="0.93">
<rect x="426.95" y="2297.6" width="4.7" height="45.8"/>
<rect x="436.61" y="2292.1" width="4.7" height="45.8"/>
<rect x="446.26" y="2286.5" width="4.7" height="45.8"/>
<rect x="455.92" y="2281.6" width="4.7" height="45.8"/>
<rect x="465.57" y="2276.6" width="4.7" height="45.8"/>
<rect x="475.23" y="2272.7" width="4.7" height="45.8"/>
<rect x="484.89" y="2268.7" width="4.7" height="45.8"/>
<rect x="494.54" y="2266.3" width="4.7" height="45.8"/>
<rect x="504.20" y="2263.8" width="4.7" height="45.8"/>
<rect x="513.85" y="2261.9" width="4.7" height="45.8"/>
<rect x="523.51" y="2260.0" width="4.7" height="45.8"/>
<rect x="533.17" y="2258.3" width="4.7" height="45.8"/>
<rect x="542.82" y="2256.6" width="4.7" height="45.8"/>
<rect x="552.48" y="2252.4" width="4.7" height="45.8"/>
<rect x="562.13" y="2248.2" width="4.7" height="45.8"/>
<rect x="571.79" y="2245.1" width="4.7" height="45.8"/>
<rect x="581.45" y="2242.1" width="4.7" height="45.8"/>
<rect x="591.10" y="2238.8" width="4.7" height="45.8"/>
<rect x="600.76" y="2235.4" width="4.7" height="45.8"/>
<rect x="610.41" y="2233.9" width="4.7" height="45.8"/>
<rect x="620.07" y="2232.5" width="4.7" height="45.8"/>
<rect x="629.73" y="2233.4" width="4.7" height="45.8"/>
<rect x="639.38" y="2234.4" width="4.7" height="45.8"/>
<rect x="649.04" y="2234.4" width="4.7" height="45.8"/>
<rect x="658.69" y="2234.4" width="4.7" height="45.8"/>
<rect x="668.35" y="2231.5" width="4.7" height="45.8"/>
<rect x="678.01" y="2226.4" width="4.7" height="45.8"/>
<rect x="687.66" y="2219.8" width="4.7" height="45.8"/>
<rect x="697.32" y="2213.2" width="4.7" height="45.8"/>
<rect x="706.97" y="2210.5" width="4.7" height="45.8"/>
<rect x="716.63" y="2206.7" width="4.7" height="48.3"/>
<rect x="726.29" y="2204.4" width="4.7" height="48.3"/>
<rect x="735.94" y="2202.2" width="4.7" height="48.3"/>
<rect x="745.60" y="2199.9" width="4.7" height="48.3"/>
<rect x="755.25" y="2201.6" width="4.7" height="48.3"/>
<rect x="764.91" y="2201.3" width="4.7" height="48.3"/>
<rect x="774.57" y="2200.9" width="4.7" height="48.3"/>
<rect x="784.22" y="2200.6" width="4.7" height="48.3"/>
<rect x="793.88" y="2200.0" width="4.7" height="48.3"/>
<rect x="803.53" y="2199.3" width="4.7" height="48.3"/>
<rect x="813.19" y="2198.7" width="4.7" height="48.3"/>
<rect x="822.85" y="2195.7" width="4.7" height="48.3"/>
<rect x="832.50" y="2192.7" width="4.7" height="48.3"/>
<rect x="842.16" y="2191.1" width="4.7" height="48.3"/>
<rect x="851.81" y="2189.4" width="4.7" height="48.3"/>
<rect x="861.47" y="2187.8" width="4.7" height="48.3"/>
<rect x="871.13" y="2184.5" width="4.7" height="48.3"/>
<rect x="880.78" y="2181.1" width="4.7" height="48.3"/>
<rect x="890.44" y="2173.4" width="4.7" height="48.3"/>
<rect x="900.09" y="2164.2" width="4.7" height="48.3"/>
<rect x="909.75" y="2160.8" width="4.7" height="48.3"/>
<rect x="919.41" y="2157.4" width="4.7" height="48.3"/>
<rect x="929.06" y="2156.8" width="4.7" height="48.3"/>
<rect x="938.72" y="2156.1" width="4.7" height="48.3"/>
<rect x="948.37" y="2155.5" width="4.7" height="48.3"/>
<rect x="958.03" y="2153.6" width="4.7" height="48.3"/>
<rect x="967.69" y="2151.6" width="4.7" height="48.3"/>
<rect x="977.34" y="2148.0" width="4.7" height="48.3"/>
<rect x="987.00" y="2144.4" width="4.7" height="48.3"/>
<rect x="996.65" y="2140.8" width="4.7" height="48.3"/>
<rect x="1006.31" y="2137.2" width="4.7" height="48.3"/>
<rect x="1015.97" y="2136.4" width="4.7" height="50.7"/>
<rect x="1025.62" y="2138.4" width="4.7" height="50.7"/>
<rect x="1035.28" y="2136.4" width="4.7" height="50.7"/>
<rect x="1044.93" y="2137.2" width="4.7" height="50.7"/>
<rect x="1054.59" y="2140.2" width="4.7" height="50.7"/>
<rect x="1064.25" y="2143.2" width="4.7" height="50.7"/>
<rect x="1073.90" y="2145.7" width="4.7" height="50.7"/>
<rect x="1083.56" y="2148.3" width="4.7" height="50.7"/>
<rect x="1093.21" y="2150.6" width="4.7" height="50.7"/>
<rect x="1102.87" y="2152.8" width="4.7" height="50.7"/>
<rect x="1112.53" y="2153.7" width="4.7" height="50.7"/>
<rect x="1122.18" y="2154.5" width="4.7" height="50.7"/>
<rect x="1131.84" y="2155.3" width="4.7" height="50.7"/>
<rect x="1141.49" y="2157.7" width="4.7" height="50.7"/>
<rect x="1151.15" y="2160.1" width="4.7" height="50.7"/>
<rect x="1160.81" y="2163.7" width="4.7" height="50.7"/>
<rect x="1170.46" y="2167.3" width="4.7" height="50.7"/>
<rect x="1180.12" y="2171.1" width="4.7" height="50.7"/>
<rect x="1189.77" y="2174.8" width="4.7" height="50.7"/>
<rect x="1199.43" y="2178.3" width="4.7" height="50.7"/>
<rect x="1209.09" y="2181.8" width="4.7" height="50.7"/>
<rect x="1218.74" y="2186.6" width="4.7" height="50.7"/>
<rect x="1228.40" y="2191.5" width="4.7" height="50.7"/>
<rect x="1238.05" y="2197.0" width="4.7" height="50.7"/>
<rect x="1247.71" y="2202.6" width="4.7" height="50.7"/>
<rect x="1257.37" y="2205.5" width="4.7" height="50.7"/>
<rect x="1267.02" y="2208.3" width="4.7" height="50.7"/>
<rect x="1276.68" y="2211.5" width="4.7" height="50.7"/>
<rect x="1286.33" y="2214.6" width="4.7" height="50.7"/>
<rect x="1295.99" y="2213.2" width="4.7" height="50.7"/>
<rect x="1305.65" y="2217.3" width="4.7" height="50.7"/>
<rect x="1315.30" y="2224.0" width="4.7" height="48.3"/>
<rect x="1324.96" y="2227.7" width="4.7" height="48.3"/>
<rect x="1334.61" y="2232.5" width="4.7" height="48.3"/>
<rect x="1344.27" y="2241.4" width="4.7" height="48.3"/>
<rect x="1353.93" y="2246.0" width="4.7" height="48.3"/>
<rect x="1363.58" y="2250.6" width="4.7" height="48.3"/>
<rect x="1373.24" y="2257.1" width="4.7" height="48.3"/>
<rect x="1382.89" y="2261.1" width="4.7" height="48.3"/>
<rect x="1392.55" y="2265.1" width="4.7" height="48.3"/>
<rect x="1402.21" y="2269.5" width="4.7" height="48.3"/>
<rect x="1411.86" y="2274.0" width="4.7" height="48.3"/>
<rect x="1421.52" y="2276.4" width="4.7" height="48.3"/>
<rect x="1431.17" y="2278.8" width="4.7" height="48.3"/>
<rect x="1440.83" y="2282.8" width="4.7" height="48.3"/>
<rect x="1450.49" y="2286.8" width="4.7" height="48.3"/>
<rect x="1460.14" y="2290.1" width="4.7" height="48.3"/>
<rect x="1469.80" y="2293.5" width="4.7" height="48.3"/>
<rect x="1479.45" y="2302.5" width="4.7" height="48.3"/>
<rect x="1489.11" y="2312.3" width="4.7" height="48.3"/>
<rect x="1498.77" y="2324.2" width="4.7" height="48.3"/>
<rect x="1508.42" y="2332.1" width="4.7" height="48.3"/>
<rect x="1518.08" y="2337.0" width="4.7" height="48.3"/>
<rect x="1527.73" y="2339.4" width="4.7" height="48.3"/>
<rect x="1537.39" y="2341.8" width="4.7" height="48.3"/>
<rect x="1547.05" y="2344.4" width="4.7" height="48.3"/>
<rect x="1556.70" y="2347.1" width="4.7" height="48.3"/>
<rect x="1566.36" y="2351.9" width="4.7" height="48.3"/>
<rect x="1576.01" y="2357.5" width="4.7" height="48.3"/>
<rect x="1585.67" y="2361.5" width="4.7" height="48.3"/>
<rect x="1595.33" y="2365.4" width="4.7" height="48.3"/>
<rect x="1604.98" y="2365.2" width="4.7" height="57.9"/>
<rect x="1614.64" y="2369.8" width="4.7" height="57.9"/>
<rect x="1624.29" y="2377.7" width="4.7" height="57.9"/>
<rect x="1633.95" y="2389.6" width="4.7" height="57.9"/>
<rect x="1643.61" y="2394.6" width="4.7" height="57.9"/>
<rect x="1653.26" y="2402.6" width="4.7" height="57.9"/>
<rect x="1662.92" y="2407.4" width="4.7" height="57.9"/>
<rect x="1672.57" y="2407.9" width="4.7" height="57.9"/>
<rect x="1682.23" y="2410.3" width="4.7" height="57.9"/>
<rect x="1691.89" y="2416.3" width="4.7" height="57.9"/>
<rect x="1701.54" y="2423.1" width="4.7" height="57.9"/>
<rect x="1711.20" y="2430.1" width="4.7" height="57.9"/>
<rect x="1720.85" y="2440.0" width="4.7" height="57.9"/>
<rect x="1730.51" y="2449.6" width="4.7" height="57.9"/>
<rect x="1740.17" y="2456.6" width="4.7" height="57.9"/>
<rect x="1749.82" y="2460.5" width="4.7" height="57.9"/>
<rect x="1759.48" y="2463.2" width="4.7" height="57.9"/>
<rect x="1769.13" y="2465.1" width="4.7" height="57.9"/>
<rect x="1778.79" y="2465.6" width="4.7" height="57.9"/>
<rect x="1788.45" y="2467.5" width="4.7" height="57.9"/>
<rect x="1798.10" y="2475.0" width="4.7" height="53.1"/>
<rect x="1807.76" y="2480.0" width="4.7" height="54.6"/>
<rect x="1817.41" y="2486.2" width="4.7" height="56.2"/>
<rect x="1827.07" y="2494.4" width="4.7" height="57.7"/>
<rect x="1836.73" y="2502.3" width="4.7" height="59.2"/>
<rect x="1846.38" y="2510.5" width="4.7" height="60.8"/>
<rect x="1856.04" y="2517.4" width="4.7" height="62.3"/>
<rect x="1865.69" y="2525.8" width="4.7" height="63.8"/>
<rect x="1875.35" y="2532.5" width="4.7" height="65.4"/>
<rect x="1885.01" y="2539.0" width="4.7" height="66.9"/>
<rect x="1894.66" y="2545.7" width="4.7" height="68.4"/>
<rect x="1904.32" y="2548.8" width="4.7" height="72.4"/>
<rect x="1913.97" y="2551.5" width="4.7" height="72.4"/>
<rect x="1923.63" y="2550.0" width="4.7" height="72.4"/>
<rect x="1933.29" y="2547.4" width="4.7" height="72.4"/>
<rect x="1942.94" y="2544.7" width="4.7" height="72.4"/>
<rect x="1952.60" y="2542.5" width="4.7" height="72.4"/>
<rect x="1962.25" y="2542.3" width="4.7" height="72.4"/>
<rect x="1971.91" y="2544.7" width="4.7" height="72.4"/>
<rect x="1981.57" y="2552.2" width="4.7" height="72.4"/>
<rect x="1991.22" y="2561.6" width="4.7" height="72.4"/>
<rect x="2000.88" y="2572.2" width="4.7" height="67.6"/>
<rect x="2010.53" y="2580.7" width="4.7" height="67.6"/>
<rect x="2020.19" y="2592.3" width="4.7" height="67.6"/>
<rect x="2029.85" y="2604.8" width="4.7" height="67.6"/>
<rect x="2039.50" y="2617.4" width="4.7" height="67.6"/>
<rect x="2049.16" y="2628.9" width="4.7" height="67.6"/>
<rect x="2058.81" y="2640.3" width="4.7" height="67.6"/>
<rect x="2068.47" y="2649.7" width="4.7" height="67.6"/>
<rect x="2078.13" y="2658.1" width="4.7" height="67.6"/>
<rect x="2087.78" y="2664.4" width="4.7" height="67.6"/>
<rect x="2097.44" y="2669.7" width="4.7" height="60.3"/>
<rect x="2107.09" y="2670.2" width="4.7" height="60.3"/>
<rect x="2116.75" y="2670.4" width="4.7" height="60.3"/>
<rect x="2126.41" y="2672.1" width="4.7" height="60.3"/>
<rect x="2136.06" y="2676.5" width="4.7" height="60.3"/>
<rect x="2145.72" y="2680.6" width="4.7" height="60.3"/>
<rect x="2155.37" y="2683.7" width="4.7" height="60.3"/>
<rect x="2165.03" y="2687.8" width="4.7" height="60.3"/>
<rect x="2174.69" y="2693.1" width="4.7" height="60.3"/>
<rect x="2184.34" y="2699.4" width="4.7" height="60.3"/>
</g>
<polyline points="429.3,2320.6 439.0,2315.0 448.6,2309.5 458.3,2304.5 467.9,2299.6 477.6,2295.6 487.2,2291.6 496.9,2289.2 506.5,2286.8 516.2,2284.8 525.9,2282.9 535.5,2281.2 545.2,2279.5 554.8,2275.3 564.5,2271.1 574.1,2268.1 583.8,2265.1 593.5,2261.7 603.1,2258.3 612.8,2256.8 622.4,2255.4 632.1,2256.4 641.7,2257.3 651.4,2257.3 661.0,2257.3 670.7,2254.4 680.4,2249.4 690.0,2242.7 699.7,2236.1 709.3,2233.4 719.0,2230.8 728.6,2228.5 738.3,2226.3 747.9,2224.0 757.6,2225.7 767.3,2225.4 776.9,2225.1 786.6,2224.8 796.2,2224.1 805.9,2223.5 815.5,2222.8 825.2,2219.8 834.9,2216.8 844.5,2215.2 854.2,2213.6 863.8,2212.0 873.5,2208.6 883.1,2205.2 892.8,2197.5 902.4,2188.3 912.1,2184.9 921.8,2181.6 931.4,2180.9 941.1,2180.3 950.7,2179.6 960.4,2177.7 970.0,2175.8 979.7,2172.2 989.3,2168.5 999.0,2164.9 1008.7,2161.3 1018.3,2161.8 1028.0,2163.7 1037.6,2161.8 1047.3,2162.5 1056.9,2165.5 1066.6,2168.5 1076.3,2171.1 1085.9,2173.6 1095.6,2175.9 1105.2,2178.2 1114.9,2179.0 1124.5,2179.8 1134.2,2180.6 1143.8,2183.0 1153.5,2185.4 1163.2,2189.0 1172.8,2192.7 1182.5,2196.4 1192.1,2200.1 1201.8,2203.6 1211.4,2207.1 1221.1,2212.0 1230.7,2216.8 1240.4,2222.3 1250.1,2227.9 1259.7,2230.8 1269.4,2233.7 1279.0,2236.8 1288.7,2240.0 1298.3,2238.5 1308.0,2242.6 1317.7,2248.2 1327.3,2251.8 1337.0,2256.6 1346.6,2265.5 1356.3,2270.1 1365.9,2274.7 1375.6,2281.2 1385.2,2285.2 1394.9,2289.2 1404.6,2293.6 1414.2,2298.1 1423.9,2300.5 1433.5,2302.9 1443.2,2306.9 1452.8,2310.9 1462.5,2314.3 1472.1,2317.7 1481.8,2326.6 1491.5,2336.5 1501.1,2348.3 1510.8,2356.3 1520.4,2361.1 1530.1,2363.5 1539.7,2365.9 1549.4,2368.6 1559.1,2371.2 1568.7,2376.1 1578.4,2381.6 1588.0,2385.6 1597.7,2389.6 1607.3,2394.1 1617.0,2398.7 1626.6,2406.7 1636.3,2418.5 1646.0,2423.6 1655.6,2431.5 1665.3,2436.4 1674.9,2436.9 1684.6,2439.3 1694.2,2445.3 1703.9,2452.1 1713.5,2459.1 1723.2,2469.0 1732.9,2478.6 1742.5,2485.6 1752.2,2489.5 1761.8,2492.1 1771.5,2494.0 1781.1,2494.5 1790.8,2496.5 1800.5,2501.5 1810.1,2507.3 1819.8,2514.3 1829.4,2523.2 1839.1,2531.9 1848.7,2540.9 1858.4,2548.6 1868.0,2557.7 1877.7,2565.2 1887.4,2572.5 1897.0,2579.9 1906.7,2585.0 1916.3,2587.7 1926.0,2586.2 1935.6,2583.6 1945.3,2580.9 1954.9,2578.7 1964.6,2578.5 1974.3,2580.9 1983.9,2588.4 1993.6,2597.8 2003.2,2606.0 2012.9,2614.5 2022.5,2626.0 2032.2,2638.6 2041.9,2651.1 2051.5,2662.7 2061.2,2674.1 2070.8,2683.5 2080.5,2691.9 2090.1,2698.2 2099.8,2699.9 2109.4,2700.4 2119.1,2700.6 2128.8,2702.3 2138.4,2706.6 2148.1,2710.7 2157.7,2713.9 2167.4,2718.0 2177.0,2723.3 2186.7,2729.6" fill="none" stroke="#0b5d0b" stroke-width="3.6" stroke-linejoin="round" stroke-linecap="round"/>
<rect x="420.0" y="2069.6" width="1777.5" height="699.8" fill="none" stroke="#8a8a8a" stroke-width="2"/>
<rect x="419.0" y="2069.6" width="2" height="699.8" fill="#858585"/>
<rect x="420.0" y="2768.5" width="1777.5" height="1.8" fill="#7a7a7a"/>
<rect x="414.5" y="2768.6" width="5.5" height="1.5" fill="#555"/>
<text x="395.2" y="2776.6" font-size="20.5" fill="#4d4d4d" textLength="13.3" lengthAdjust="spacingAndGlyphs" style="font-family:'Liberation Sans',sans-serif">1</text>
<rect x="414.5" y="2744.4" width="5.5" height="1.5" fill="#555"/>
<text x="395.2" y="2752.4" font-size="20.5" fill="#4d4d4d" textLength="13.3" lengthAdjust="spacingAndGlyphs" style="font-family:'Liberation Sans',sans-serif">2</text>
<rect x="414.5" y="2720.3" width="5.5" height="1.5" fill="#555"/>
<text x="395.2" y="2728.3" font-size="20.5" fill="#4d4d4d" textLength="13.3" lengthAdjust="spacingAndGlyphs" style="font-family:'Liberation Sans',sans-serif">3</text>
<rect x="414.5" y="2696.2" width="5.5" height="1.5" fill="#555"/>
<text x="395.2" y="2704.2" font-size="20.5" fill="#4d4d4d" textLength="13.3" lengthAdjust="spacingAndGlyphs" style="font-family:'Liberation Sans',sans-serif">4</text>
<rect x="414.5" y="2672.0" width="5.5" height="1.5" fill="#555"/>
<text x="395.2" y="2680.0" font-size="20.5" fill="#4d4d4d" textLength="13.3" lengthAdjust="spacingAndGlyphs" style="font-family:'Liberation Sans',sans-serif">5</text>
<rect x="414.5" y="2647.9" width="5.5" height="1.5" fill="#555"/>
<text x="395.2" y="2655.9" font-size="20.5" fill="#4d4d4d" textLength="13.3" lengthAdjust="spacingAndGlyphs" style="font-family:'Liberation Sans',sans-serif">6</text>
<rect x="414.5" y="2623.8" width="5.5" height="1.5" fill="#555"/>
<text x="395.2" y="2631.8" font-size="20.5" fill="#4d4d4d" textLength="13.3" lengthAdjust="spacingAndGlyphs" style="font-family:'Liberation Sans',sans-serif">7</text>
<rect x="414.5" y="2599.7" width="5.5" height="1.5" fill="#555"/>
<text x="395.2" y="2607.7" font-size="20.5" fill="#4d4d4d" textLength="13.3" lengthAdjust="spacingAndGlyphs" style="font-family:'Liberation Sans',sans-serif">8</text>
<rect x="414.5" y="2575.5" width="5.5" height="1.5" fill="#555"/>
<text x="395.2" y="2583.5" font-size="20.5" fill="#4d4d4d" textLength="13.3" lengthAdjust="spacingAndGlyphs" style="font-family:'Liberation Sans',sans-serif">9</text>
<rect x="414.5" y="2551.4" width="5.5" height="1.5" fill="#555"/>
<text x="381.9" y="2559.4" font-size="20.5" fill="#4d4d4d" textLength="26.6" lengthAdjust="spacingAndGlyphs" style="font-family:'Liberation Sans',sans-serif">10</text>
<rect x="414.5" y="2527.3" width="5.5" height="1.5" fill="#555"/>
<text x="381.9" y="2535.3" font-size="20.5" fill="#4d4d4d" textLength="26.6" lengthAdjust="spacingAndGlyphs" style="font-family:'Liberation Sans',sans-serif">11</text>
<rect x="414.5" y="2503.1" width="5.5" height="1.5" fill="#555"/>
<text x="381.9" y="2511.1" font-size="20.5" fill="#4d4d4d" textLength="26.6" lengthAdjust="spacingAndGlyphs" style="font-family:'Liberation Sans',sans-serif">12</text>
<rect x="414.5" y="2479.0" width="5.5" height="1.5" fill="#555"/>
<text x="381.9" y="2487.0" font-size="20.5" fill="#4d4d4d" textLength="26.6" lengthAdjust="spacingAndGlyphs" style="font-family:'Liberation Sans',sans-serif">13</text>
<rect x="414.5" y="2454.9" width="5.5" height="1.5" fill="#555"/>
<text x="381.9" y="2462.9" font-size="20.5" fill="#4d4d4d" textLength="26.6" lengthAdjust="spacingAndGlyphs" style="font-family:'Liberation Sans',sans-serif">14</text>
<rect x="414.5" y="2430.7" width="5.5" height="1.5" fill="#555"/>
<text x="381.9" y="2438.7" font-size="20.5" fill="#4d4d4d" textLength="26.6" lengthAdjust="spacingAndGlyphs" style="font-family:'Liberation Sans',sans-serif">15</text>
<rect x="414.5" y="2406.6" width="5.5" height="1.5" fill="#555"/>
<text x="381.9" y="2414.6" font-size="20.5" fill="#4d4d4d" textLength="26.6" lengthAdjust="spacingAndGlyphs" style="font-family:'Liberation Sans',sans-serif">16</text>
<rect x="414.5" y="2382.5" width="5.5" height="1.5" fill="#555"/>
<text x="381.9" y="2390.5" font-size="20.5" fill="#4d4d4d" textLength="26.6" lengthAdjust="spacingAndGlyphs" style="font-family:'Liberation Sans',sans-serif">17</text>
<rect x="414.5" y="2358.4" width="5.5" height="1.5" fill="#555"/>
<text x="381.9" y="2366.4" font-size="20.5" fill="#4d4d4d" textLength="26.6" lengthAdjust="spacingAndGlyphs" style="font-family:'Liberation Sans',sans-serif">18</text>
<rect x="414.5" y="2334.2" width="5.5" height="1.5" fill="#555"/>
<text x="381.9" y="2342.2" font-size="20.5" fill="#4d4d4d" textLength="26.6" lengthAdjust="spacingAndGlyphs" style="font-family:'Liberation Sans',sans-serif">19</text>
<rect x="414.5" y="2310.1" width="5.5" height="1.5" fill="#555"/>
<text x="381.9" y="2318.1" font-size="20.5" fill="#4d4d4d" textLength="26.6" lengthAdjust="spacingAndGlyphs" style="font-family:'Liberation Sans',sans-serif">20</text>
<rect x="414.5" y="2286.0" width="5.5" height="1.5" fill="#555"/>
<text x="381.9" y="2294.0" font-size="20.5" fill="#4d4d4d" textLength="26.6" lengthAdjust="spacingAndGlyphs" style="font-family:'Liberation Sans',sans-serif">21</text>
<rect x="414.5" y="2261.8" width="5.5" height="1.5" fill="#555"/>
<text x="381.9" y="2269.8" font-size="20.5" fill="#4d4d4d" textLength="26.6" lengthAdjust="spacingAndGlyphs" style="font-family:'Liberation Sans',sans-serif">22</text>
<rect x="414.5" y="2237.7" width="5.5" height="1.5" fill="#555"/>
<text x="381.9" y="2245.7" font-size="20.5" fill="#4d4d4d" textLength="26.6" lengthAdjust="spacingAndGlyphs" style="font-family:'Liberation Sans',sans-serif">23</text>
<rect x="414.5" y="2213.6" width="5.5" height="1.5" fill="#555"/>
<text x="381.9" y="2221.6" font-size="20.5" fill="#4d4d4d" textLength="26.6" lengthAdjust="spacingAndGlyphs" style="font-family:'Liberation Sans',sans-serif">24</text>
<rect x="414.5" y="2189.4" width="5.5" height="1.5" fill="#555"/>
<text x="381.9" y="2197.4" font-size="20.5" fill="#4d4d4d" textLength="26.6" lengthAdjust="spacingAndGlyphs" style="font-family:'Liberation Sans',sans-serif">25</text>
<rect x="414.5" y="2165.3" width="5.5" height="1.5" fill="#555"/>
<text x="381.9" y="2173.3" font-size="20.5" fill="#4d4d4d" textLength="26.6" lengthAdjust="spacingAndGlyphs" style="font-family:'Liberation Sans',sans-serif">26</text>
<rect x="414.5" y="2141.2" width="5.5" height="1.5" fill="#555"/>
<text x="381.9" y="2149.2" font-size="20.5" fill="#4d4d4d" textLength="26.6" lengthAdjust="spacingAndGlyphs" style="font-family:'Liberation Sans',sans-serif">27</text>
<rect x="414.5" y="2117.1" width="5.5" height="1.5" fill="#555"/>
<text x="381.9" y="2125.1" font-size="20.5" fill="#4d4d4d" textLength="26.6" lengthAdjust="spacingAndGlyphs" style="font-family:'Liberation Sans',sans-serif">28</text>
<rect x="414.5" y="2092.9" width="5.5" height="1.5" fill="#555"/>
<text x="381.9" y="2100.9" font-size="20.5" fill="#4d4d4d" textLength="26.6" lengthAdjust="spacingAndGlyphs" style="font-family:'Liberation Sans',sans-serif">29</text>
<rect x="414.5" y="2068.8" width="5.5" height="1.5" fill="#555"/>
<text x="381.9" y="2076.8" font-size="20.5" fill="#4d4d4d" textLength="26.6" lengthAdjust="spacingAndGlyphs" style="font-family:'Liberation Sans',sans-serif">30</text>
<text x="363" y="2199.6" font-size="25.5" font-weight="700" text-anchor="end" fill="#000">25</text>
<text x="363" y="2320.2" font-size="25.5" font-weight="700" text-anchor="end" fill="#000">20</text>
<text x="363" y="2440.8" font-size="25.5" font-weight="700" text-anchor="end" fill="#000">15</text>
<text x="363" y="2561.5" font-size="25.5" font-weight="700" text-anchor="end" fill="#000">10</text>
<text x="363" y="2682.2" font-size="25.5" font-weight="700" text-anchor="end" fill="#000">5</text>
<text x="298" y="2351" font-size="31" font-weight="700" text-anchor="middle" fill="#000">기</text>
<text x="298" y="2407" font-size="31" font-weight="700" text-anchor="middle" fill="#000">온</text>
<text x="303" y="2466" font-size="29" font-weight="700" text-anchor="middle" fill="#000" textLength="46" lengthAdjust="spacingAndGlyphs">(℃)</text>
<rect x="428.5" y="2769.4" width="1.6" height="7" fill="#444"/>
<text transform="translate(433.8,2792.5) rotate(-30)" font-size="21" text-anchor="middle" fill="#4d4d4d" textLength="53" lengthAdjust="spacing">06 월</text>
<text x="429.8" y="2842" font-size="24.5" font-weight="700" text-anchor="middle" fill="#000">6.1.</text>
<rect x="718.2" y="2769.4" width="1.6" height="7" fill="#444"/>
<text transform="translate(723.5,2792.5) rotate(-30)" font-size="21" text-anchor="middle" fill="#4d4d4d" textLength="53" lengthAdjust="spacing">07 월</text>
<text x="719.5" y="2842" font-size="24.5" font-weight="700" text-anchor="middle" fill="#000">7.1.</text>
<rect x="1017.5" y="2769.4" width="1.6" height="7" fill="#444"/>
<text transform="translate(1022.8,2792.5) rotate(-30)" font-size="21" text-anchor="middle" fill="#4d4d4d" textLength="53" lengthAdjust="spacing">08 월</text>
<text x="1018.8" y="2842" font-size="24.5" font-weight="700" text-anchor="middle" fill="#000">8.1.</text>
<rect x="1316.9" y="2769.4" width="1.6" height="7" fill="#444"/>
<text transform="translate(1322.2,2792.5) rotate(-30)" font-size="21" text-anchor="middle" fill="#4d4d4d" textLength="53" lengthAdjust="spacing">09 월</text>
<text x="1318.2" y="2842" font-size="24.5" font-weight="700" text-anchor="middle" fill="#000">9.1.</text>
<rect x="1606.5" y="2769.4" width="1.6" height="7" fill="#444"/>
<text transform="translate(1611.8,2792.5) rotate(-30)" font-size="21" text-anchor="middle" fill="#4d4d4d" textLength="53" lengthAdjust="spacing">10 월</text>
<text x="1607.8" y="2842" font-size="24.5" font-weight="700" text-anchor="middle" fill="#000">10.1.</text>
<rect x="1905.9" y="2769.4" width="1.6" height="7" fill="#444"/>
<text transform="translate(1911.2,2792.5) rotate(-30)" font-size="21" text-anchor="middle" fill="#4d4d4d" textLength="53" lengthAdjust="spacing">11 월</text>
<text x="1907.2" y="2842" font-size="24.5" font-weight="700" text-anchor="middle" fill="#000">11.1.</text>
<rect x="2195.5" y="2769.4" width="1.6" height="7" fill="#444"/>
<text x="547.5" y="2016" font-size="33" font-weight="700" fill="#000" textLength="47" lengthAdjust="spacingAndGlyphs">6월</text>
<text x="440.0" y="2058" font-size="33.5" font-weight="700" fill="#f00000" textLength="263" lengthAdjust="spacing">(22.9℃, +1.3℃/3위)</text>
<text x="841.5" y="2016" font-size="33" font-weight="700" fill="#000" textLength="47" lengthAdjust="spacingAndGlyphs">7월</text>
<text x="734.0" y="2058" font-size="33.5" font-weight="700" fill="#f00000" textLength="263" lengthAdjust="spacing">(26.7℃, +2.3℃/2위)</text>
<text x="1137.5" y="2016" font-size="33" font-weight="700" fill="#000" textLength="47" lengthAdjust="spacingAndGlyphs">8월</text>
<text x="1030.0" y="2058" font-size="33.5" font-weight="700" fill="#f00000" textLength="263" lengthAdjust="spacing">(26.7℃, +2.0℃/3위)</text>
<text x="1432.0" y="2016" font-size="33" font-weight="700" fill="#000" textLength="47" lengthAdjust="spacingAndGlyphs">9월</text>
<text x="1324.5" y="2058" font-size="33.5" font-weight="700" fill="#f00000" textLength="263" lengthAdjust="spacing">(22.2℃, +2.6℃/2위)</text>
<text x="1719.0" y="2016" font-size="33" font-weight="700" fill="#000" textLength="66" lengthAdjust="spacingAndGlyphs">10월</text>
<text x="1621.0" y="2058" font-size="33.5" font-weight="700" fill="#f00000" textLength="263" lengthAdjust="spacing">(15.8℃, +2.9℃/1위)</text>
<text x="2015.0" y="2016" font-size="33" font-weight="700" fill="#000" textLength="66" lengthAdjust="spacingAndGlyphs">11월</text>
<text x="1917.0" y="2058" font-size="33.5" font-weight="700" fill="#f00000" textLength="263" lengthAdjust="spacing">(7.1℃, +1.1℃/10위)</text>
<rect x="1958" y="2082" width="236" height="134" fill="#fff"/>
<rect x="1966.5" y="2090.5" width="34" height="39" fill="#fb0500"/>
<rect x="1966.5" y="2129" width="34" height="40.5" fill="#05d312"/>
<rect x="1966.5" y="2169.5" width="34" height="39" fill="#1010c8"/>
<text x="2017" y="2119" font-size="26" font-weight="700" fill="#f00000" textLength="159" lengthAdjust="spacingAndGlyphs">평년보다 높음</text>
<text x="2017" y="2158.5" font-size="26" font-weight="700" fill="#04c81e" textLength="159" lengthAdjust="spacingAndGlyphs">평년과 비슷함</text>
<text x="2017" y="2198.5" font-size="26" font-weight="700" fill="#0808a8" textLength="159" lengthAdjust="spacingAndGlyphs">평년보다 낮음</text>
<ellipse cx="544.0" cy="2231.0" rx="76.5" ry="85.0" fill="none" stroke="#e60000" stroke-width="4.4"/>
<ellipse cx="648.0" cy="2271.0" rx="35.0" ry="40.0" fill="none" stroke="#1a1ae6" stroke-width="4.0"/>
<ellipse cx="745.5" cy="2175.0" rx="89.5" ry="103.0" fill="none" stroke="#e60000" stroke-width="4.4"/>
<ellipse cx="870.0" cy="2238.0" rx="43.0" ry="54.5" fill="none" stroke="#1a1ae6" stroke-width="4.0"/>
<ellipse cx="989.7" cy="2148.0" rx="102.5" ry="81.5" fill="none" stroke="#e60000" stroke-width="4.4"/>
<ellipse cx="1110.7" cy="2199.0" rx="25.0" ry="53.5" fill="none" stroke="#1a1ae6" stroke-width="4.0"/>
<ellipse cx="1235.5" cy="2183.0" rx="96.0" ry="96.5" fill="none" stroke="#e60000" stroke-width="4.4"/>
<rect x="735" y="2325" width="66" height="36" fill="#fff"/>
<rect x="838" y="2325" width="66" height="36" fill="#fff"/>
<rect x="966" y="2325" width="66" height="36" fill="#fff"/>
<rect x="1082" y="2325" width="66" height="36" fill="#fff"/>
<rect x="718" y="2424" width="327" height="66" fill="#fff"/>
<rect x="1346" y="2540" width="416" height="48" fill="#fff"/>
<rect x="672" y="2693" width="382" height="48" fill="#fff"/>
<rect x="1592" y="2693" width="380" height="48" fill="#fff"/>
<text x="768" y="2352.500" font-size="26" font-weight="700" text-anchor="middle" fill="#f00000">폭염</text>
<text x="871.5" y="2352.500" font-size="26" font-weight="700" text-anchor="middle" fill="#1414d2">호우</text>
<text x="999" y="2352.500" font-size="26" font-weight="700" text-anchor="middle" fill="#f00000">폭염</text>
<text x="1114.5" y="2352.500" font-size="26" font-weight="700" text-anchor="middle" fill="#1414d2">호우</text>
<text x="738" y="2470" font-size="40" font-weight="700" fill="#000" textLength="290" lengthAdjust="spacingAndGlyphs">“<tspan fill="#f00000">폭염</tspan>-<tspan fill="#1414d2">호우</tspan> 반복”</text>
<text x="1361" y="2577" font-size="40" font-weight="700" fill="#000" textLength="387" lengthAdjust="spacingAndGlyphs">9~10월에도 고온 지속</text>
<text x="688" y="2731" font-size="40" font-weight="700" fill="#000" textLength="351" lengthAdjust="spacingAndGlyphs">여름철 평균기온 1위</text>
<text x="1607.5" y="2731" font-size="40" font-weight="700" fill="#000" textLength="350" lengthAdjust="spacingAndGlyphs">가을철 평균기온 2위</text>
</svg>
<div class="t ks" style="left:581.6px;top:1751.5px;font-size:46.00px;height:69.0px;line-height:69.0px;color:#000;font-weight:400;word-spacing:24.06px;">【그림 1】</div>
<div class="t ks" style="left:825.2px;top:1751.5px;font-size:46.00px;height:69.0px;line-height:69.0px;color:#000;font-weight:400;word-spacing:20.90px;">연도별(1973~2025년) 충북 연평균기온 및 편차(℃)</div>
<div class="t ks" style="left:267.3px;top:2908.0px;font-size:46.00px;height:69.0px;line-height:69.0px;color:#000;font-weight:400;word-spacing:21.16px;">【그림 2】</div>
<div class="t ks" style="left:505.6px;top:2908.0px;font-size:46.00px;height:69.0px;line-height:69.0px;color:#000;font-weight:400;word-spacing:4.12px;">2025년 여름철과 가을철 일별 충북 평균기온 시계열</div>
<div class="t ks" style="left:1510.8px;top:2919.1px;font-size:36.50px;height:54.8px;line-height:54.8px;color:#000;font-weight:400;word-spacing:6.76px;">(괄호 안의 값: 월평균기온, 평년 편차, 순위)</div>
<div class="g">
<div class="t ks" style="left:1178.9px;top:3271.2px;font-size:42.00px;height:63.0px;line-height:63.0px;color:#111;font-weight:400;transform:scale(1.9568,1.0000);">-</div>
 
<div class="t ks" style="left:1227.6px;top:3271.2px;font-size:42.00px;height:63.0px;line-height:63.0px;color:#111;font-weight:400;transform:scale(1.0375,1.0000);">4</div>
 
<div class="t ks" style="left:1270.9px;top:3271.2px;font-size:42.00px;height:63.0px;line-height:63.0px;color:#111;font-weight:400;transform:scale(1.9568,1.0000);">-</div>
</div>
</div></body></html>
